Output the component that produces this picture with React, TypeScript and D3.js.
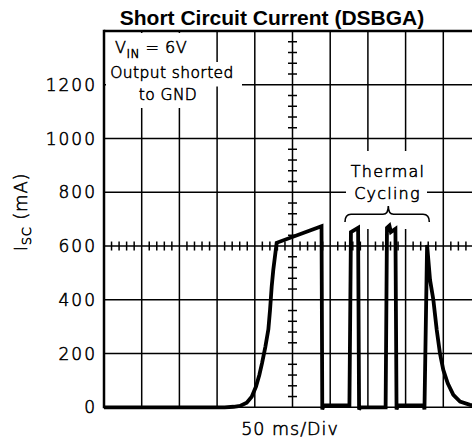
import * as d3 from 'd3'

// scope trace: time in ms (50 ms/div), current in mA
const TIME_MS = [
  0, 160, 172, 180.4, 189.3, 195.9, 201.6, 206, 209.6, 214, 218, 220.2, 222.4, 224.5, 229,
  288.5, 289.5, 291.5, 325.5,
  327.5, 337, 338.3, 340, 373.5,
  375.3, 378.5, 380.5, 386.5, 388, 390, 424, 425,
  428.5, 432.4, 436.8, 441.3, 445.6, 450, 455.9, 463.3, 472.2, 485.4, 500,
]
const CURRENT_MA = [
  0, 0, 2, 5, 17, 39, 77, 120, 164, 225, 290, 362, 449, 511, 612,
  674, -8, 7, 7,
  652, 668, -8, 0, 0,
  668, 676, 652, 664, -8, 7, 7, -8,
  604, 474, 400, 288, 200, 139, 89, 46, 21, 9, 5,
]

const Y_TICKS = [0, 200, 400, 600, 800, 1000, 1200]
const X_DIVS = [50, 100, 150, 200, 250, 300, 350, 400, 450]
const Y_LINES = [200, 400, 600, 800, 1000, 1200]

const W = 472
const H = 441
const mono = '"DejaVu Sans", sans-serif'

export default function App() {
  const x = d3.scaleLinear().domain([0, 500]).range([104, 481])
  const y = d3.scaleLinear().domain([0, 1400]).range([407.3, 31])

  const pts = TIME_MS.map((t, i) => [x(t), y(CURRENT_MA[i])] as [number, number])
  const line = d3.line<[number, number]>().x((d) => d[0]).y((d) => d[1])

  // minor ticks on the centre cross (5 per division)
  const xMinor = d3.range(0, 500.01, 10).filter((t) => t % 50 !== 0)
  const yMinor = d3.range(0, 1400.01, 40).filter((v) => v % 200 !== 0)
  const cx = x(250)
  const cy = y(600)

  const brace = `M345,222 Q345,214.3 351,214.3 L383,214.3 Q388.3,214.3 388.3,206 Q388.3,214.3 393.6,214.3 L423,214.3 Q429.3,214.3 429.3,222`

  return (
    <svg width={W} height={H} style={{ position: 'absolute', left: 0, top: 0, background: '#fff' }}>
      <rect width={W} height={H} fill="#fff" />
      <text x={272} y={25} textAnchor="middle" fontFamily='"Liberation Sans", Arial, sans-serif'
        fontWeight="bold" fontSize={21}>Short Circuit Current (DSBGA)</text>

      {/* grid */}
      {X_DIVS.map((t) => (
        <line key={'gx' + t} x1={x(t)} x2={x(t)} y1={y(1400)} y2={y(0)} stroke="#000" strokeWidth={1.5} />
      ))}
      {Y_LINES.map((v) => (
        <line key={'gy' + v} x1={x(0)} x2={x(500)} y1={y(v)} y2={y(v)} stroke="#000" strokeWidth={1.5} />
      ))}
      {xMinor.map((t) => (
        <line key={'mx' + t} x1={x(t)} x2={x(t)} y1={cy - 4.5} y2={cy + 4.5} stroke="#000" strokeWidth={1.5} />
      ))}
      {yMinor.map((v) => (
        <line key={'my' + v} x1={cx - 4.5} x2={cx + 4.5} y1={y(v)} y2={y(v)} stroke="#000" strokeWidth={1.5} />
      ))}

      {/* annotation knock-outs */}
      <rect x={106} y={33} width={84} height={30} fill="#fff" />
      <rect x={106} y={62} width={136} height={24.5} fill="#fff" />
      <rect x={120} y={86} width={84} height={22} fill="#fff" />
      <rect x={346} y={151} width={81} height={78} fill="#fff" />

      {/* frame */}
      <line x1={x(0)} x2={x(500)} y1={y(1400)} y2={y(1400)} stroke="#000" strokeWidth={2.5} />
      <line x1={x(0)} x2={x(0)} y1={y(1400) - 1.2} y2={y(0) + 1} stroke="#000" strokeWidth={2.5} />
      <line x1={x(0)} x2={x(500)} y1={y(0)} y2={y(0)} stroke="#000" strokeWidth={1.5} />

      <g fontFamily={mono} fontWeight={200} fill="#000" stroke="#000" strokeWidth={0.55}>
        {/* y tick labels */}
        {Y_TICKS.map((v) => (
          <text key={'ty' + v} x={97} y={y(v)} dy="0.36em" textAnchor="end"
            fontSize={17} letterSpacing={2}>{v}</text>
        ))}

        {/* annotations */}
        <text x={115} y={53} fontSize={16} letterSpacing={0.5}>
          V<tspan fontSize={12} dy={5}>IN</tspan><tspan dy={-5}> = 6V</tspan>
        </text>
        <text x={172} y={78} textAnchor="middle" fontSize={15.5} letterSpacing={0.4}>Output shorted</text>
        <text x={168} y={99.5} textAnchor="middle" fontSize={15.5} letterSpacing={0.4}>to GND</text>
        <text x={388} y={176.5} textAnchor="middle" fontSize={16} letterSpacing={1.2}>Thermal</text>
        <text x={387.5} y={199} textAnchor="middle" fontSize={16} letterSpacing={1.2}>Cycling</text>

        {/* axis titles */}
        <text x={290} y={435} textAnchor="middle" fontSize={17.5} letterSpacing={1}>50 ms/Div</text>
        <text transform="translate(27,212) rotate(-90)" textAnchor="middle" fontSize={18} letterSpacing={0.8}>
          I<tspan fontSize={13} dy={4}>SC</tspan><tspan dy={-4}>  (mA)</tspan>
        </text>
      </g>
      <path d={brace} fill="none" stroke="#000" strokeWidth={1.6} />

      {/* trace */}
      <path d={line(pts) ?? ''} fill="none" stroke="#000" strokeWidth={3.8} strokeLinejoin="miter" strokeMiterlimit={3} />
    </svg>
  )
}
